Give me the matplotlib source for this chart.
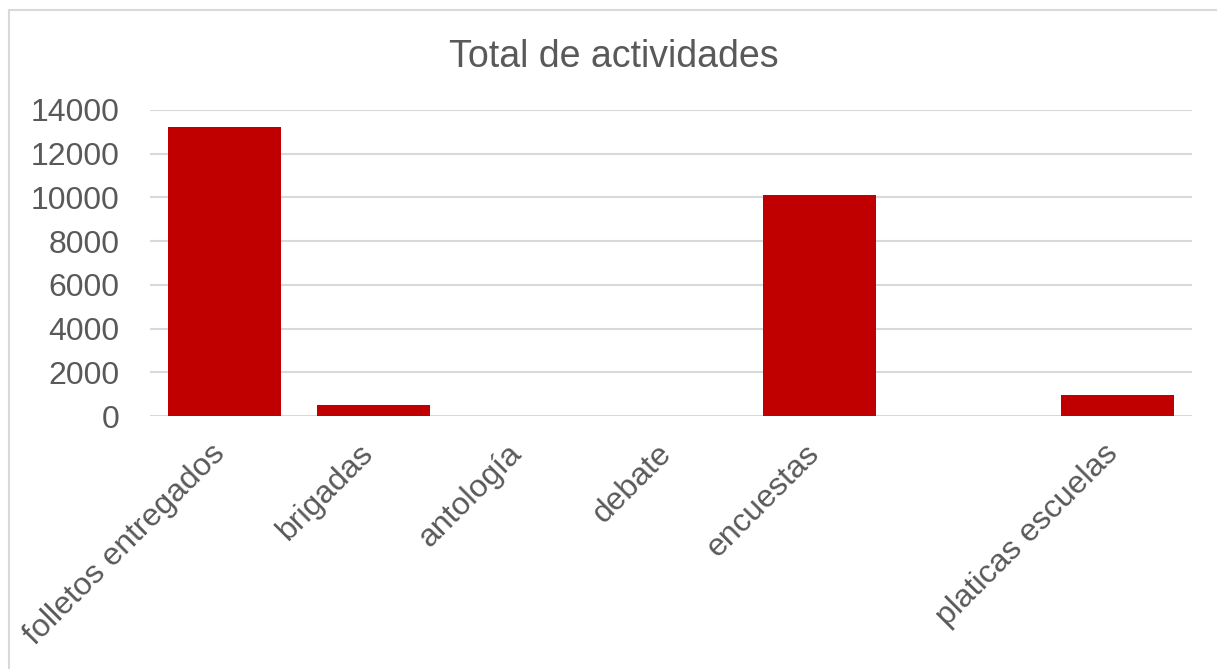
import matplotlib.pyplot as plt
from matplotlib.patches import Rectangle
from matplotlib.transforms import ScaledTranslation

# --- datos ---
categorias = ['folletos entregados', 'brigadas', 'antología', 'debate',
              'encuestas', '', 'platicas escuelas']
totales = [13200, 500, 0, 0, 10100, 15, 950]
yticks = [0, 2000, 4000, 6000, 8000, 10000, 12000, 14000]

plt.rcParams['font.family'] = ['Liberation Sans', 'DejaVu Sans']
gris = '#595959'

fig = plt.figure(figsize=(12.17, 6.69), dpi=100)
ax = fig.add_axes([0.1233, 0.378, 0.8562, 0.4576])

# marco del gráfico
fig.patches.append(Rectangle((0.007, -0.01), 1.0, 0.995, transform=fig.transFigure,
                             fill=False, edgecolor='#D9D9D9', linewidth=1.5))

x = range(len(categorias))
ax.bar(x, totales, width=0.76, color='#C00000', zorder=3)

ax.set_xlim(-0.5, len(categorias) - 0.5)
ax.set_ylim(0, 14000)
ax.set_yticks(yticks)
ax.set_yticklabels([str(v) for v in yticks])
ax.set_xticks(list(x))
ax.set_xticklabels(categorias, rotation=45, ha='right', rotation_mode='anchor')

ax.grid(axis='y', color='#D9D9D9', linewidth=1.5, zorder=0)
for s in ax.spines.values():
    s.set_visible(False)
ax.tick_params(axis='both', length=0, labelsize=23, colors=gris)
ax.tick_params(axis='y', pad=22)
ax.tick_params(axis='x', pad=16)

# correr un poco las etiquetas hacia la izquierda
desp = ScaledTranslation(-0.15, 0, fig.dpi_scale_trans)
for lbl in ax.get_xticklabels():
    lbl.set_transform(lbl.get_transform() + desp)

fig.text(0.504, 0.915, 'Total de actividades', ha='center', va='center',
         fontsize=27, color=gris)

plt.savefig('out.png', dpi=100)
